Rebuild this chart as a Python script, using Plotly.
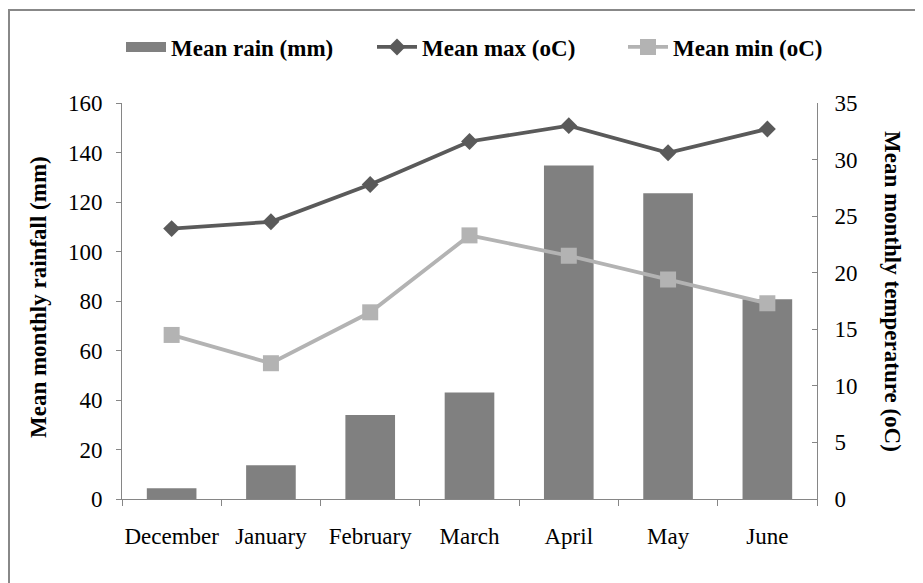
import plotly.graph_objects as go

months = ["December", "January", "February", "March", "April", "May", "June"]
rain_mm = [4.3, 13.6, 33.9, 43.0, 134.7, 123.5, 80.7]
max_temp = [23.9, 24.5, 27.8, 31.6, 33.0, 30.6, 32.7]
min_temp = [14.5, 12.0, 16.5, 23.3, 21.5, 19.4, 17.3]

OFF = 8  # default page body margin
W, H = 923 - OFF, 583 - OFF
# plot area in screen pixels: x 122..817, y 103..499
L, T = 122 - OFF, 103 - OFF
R = W - (817 - OFF)
B = H - (499 - OFF)
pw, ph = W - L - R, H - T - B

def px(x):
    return (x - OFF - L) / pw

def py(y):
    return (H - B - (y - OFF)) / ph

FONT = "Liberation Serif"
AX = "#868686"
FS = 23

fig = go.Figure()
fig.add_trace(go.Bar(x=months, y=rain_mm, name="Mean rain (mm)", showlegend=False,
                     marker=dict(color="#808080", line=dict(width=0))))
# legend swatch for the bars (wide rectangle, as in the reference)
fig.add_trace(go.Scatter(x=[None], y=[None], name="Mean rain (mm)", mode="lines",
                         line=dict(color="#808080", width=14)))
fig.add_trace(go.Scatter(x=months, y=max_temp, name="Mean max (oC)", yaxis="y2",
                         mode="lines+markers",
                         line=dict(color="#5a5a5a", width=3.8),
                         marker=dict(symbol="diamond", size=13, color="#5a5a5a")))
fig.add_trace(go.Scatter(x=months, y=min_temp, name="Mean min (oC)", yaxis="y2",
                         mode="lines+markers",
                         line=dict(color="#b3b3b3", width=3.8),
                         marker=dict(symbol="square", size=16, color="#b3b3b3")))

fig.update_layout(
    width=W, height=H,
    margin=dict(l=L, r=R, t=T, b=B, autoexpand=False),
    paper_bgcolor="white", plot_bgcolor="white",
    font=dict(family=FONT, size=FS, color="black"),
    bargap=0.5,
    showlegend=True,
    legend=dict(orientation="h", x=px(121), xanchor="left", y=py(47), yanchor="middle",
                font=dict(family=FONT, size=FS, color="black", weight="bold"),
                entrywidth=196, entrywidthmode="pixels", bgcolor="rgba(0,0,0,0)",
                itemwidth=40, traceorder="normal"),
    xaxis=dict(type="category", showline=True, linecolor=AX, linewidth=1,
               ticks="outside", ticklen=6, tickcolor=AX, tickson="boundaries",
               showgrid=False, ticklabelstandoff=16, tickangle=0, automargin=False,
               tickfont=dict(family=FONT, size=FS, color="black")),
    yaxis=dict(range=[0, 160], dtick=20, showline=True, linecolor=AX, linewidth=1,
               ticks="outside", ticklen=5, tickcolor=AX, showgrid=False, zeroline=False,
               ticklabelstandoff=9, automargin=False,
               tickfont=dict(family=FONT, size=FS, color="black")),
    yaxis2=dict(range=[0, 35], dtick=5, overlaying="y", side="right",
                showline=True, linecolor=AX, linewidth=1,
                ticks="inside", ticklen=5, tickcolor=AX, showgrid=False, zeroline=False,
                ticklabelstandoff=12, automargin=False,
                tickfont=dict(family=FONT, size=FS, color="black")),
    shapes=[dict(type="rect", xref="paper", yref="paper",
                 x0=px(9), x1=px(923 + 50), y0=py(583 + 50), y1=py(10),
                 line=dict(color="#888888", width=2), fillcolor="rgba(0,0,0,0)",
                 layer="below")],
    annotations=[
        dict(text="<b>Mean monthly rainfall (mm)</b>", xref="paper", yref="paper",
             x=px(38), y=py(297), xanchor="center", yanchor="middle",
             textangle=-90, showarrow=False,
             font=dict(family=FONT, size=FS, color="black")),
        dict(text="<b>Mean monthly temperature (oC)</b>", xref="paper", yref="paper",
             x=px(893), y=py(292), xanchor="center", yanchor="middle",
             textangle=90, showarrow=False,
             font=dict(family=FONT, size=FS, color="black")),
    ],
)

fig.write_html("out.html")
